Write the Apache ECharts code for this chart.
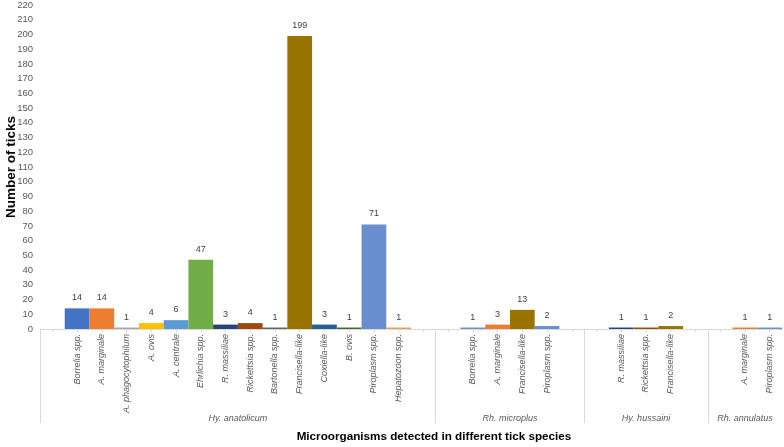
<!DOCTYPE html>
<html>
<head>
<meta charset="utf-8">
<script src="https://cdn.jsdelivr.net/npm/echarts@6/dist/echarts.min.js"></script>
<style>
html,body{margin:0;padding:0;background:#fff;}
#chart{width:784px;height:447px;}
</style>
</head>
<body>
<div id="chart"></div>
<script>
// ---- data ----
const groupNames = ['Hy. anatolicum', 'Rh. microplus', 'Hy. hussaini', 'Rh. annulatus'];

const anatolicumOrganisms = ['Borrelia spp.', 'A. marginale', 'A. phagocytophilum', 'A. ovis', 'A. centrale',
  'Ehrlichia spp.', 'R. massiliae', 'Rickettsia spp.', 'Bartonella spp.', 'Francisella-like',
  'Coxiella-like', 'B. ovis', 'Piroplasm spp.', 'Hepatozoon spp.'];
const anatolicumCounts = [14, 14, 1, 4, 6, 47, 3, 4, 1, 199, 3, 1, 71, 1];

const microplusOrganisms = ['Borrelia spp.', 'A. marginale', 'Francisella-like', 'Piroplasm spp.'];
const microplusCounts = [1, 3, 13, 2];

const hussainiOrganisms = ['R. massiliae', 'Rickettsia spp.', 'Francisella-like'];
const hussainiCounts = [1, 1, 2];

const annulatusOrganisms = ['A. marginale', 'Piroplasm spp.'];
const annulatusCounts = [1, 1];

const yTicks = { min: 0, max: 220, interval: 10 };

// ---- styles ----
const organismColors = {
  'Borrelia spp.': '#4472C4',
  'A. marginale': '#ED7D31',
  'A. phagocytophilum': '#A5A5A5',
  'A. ovis': '#FFC000',
  'A. centrale': '#5B9BD5',
  'Ehrlichia spp.': '#70AD47',
  'R. massiliae': '#264478',
  'Rickettsia spp.': '#9E480E',
  'Bartonella spp.': '#636363',
  'Francisella-like': '#997300',
  'Coxiella-like': '#255E91',
  'B. ovis': '#43682B',
  'Piroplasm spp.': '#698ED0',
  'Hepatozoon spp.': '#F1975A'
};
const groupColorOverrides = { 'Rh. microplus': { 'Borrelia spp.': '#698ED0' } };

// ---- build slots (a blank slot before each group, and after each but the last) ----
const groups = [
  [anatolicumOrganisms, anatolicumCounts],
  [microplusOrganisms, microplusCounts],
  [hussainiOrganisms, hussainiCounts],
  [annulatusOrganisms, annulatusCounts]
];
const categories = [];
const seriesData = [];
const groupBounds = [];
const groupCenters = [];
groups.forEach(([orgs, vals], gi) => {
  const start = categories.length;
  categories.push(''); seriesData.push('-');
  orgs.forEach((o, i) => {
    categories.push(o);
    const ov = groupColorOverrides[groupNames[gi]] || {};
    seriesData.push({ value: vals[i], itemStyle: { color: ov[o] || organismColors[o] } });
  });
  if (gi < groups.length - 1) { categories.push(''); seriesData.push('-'); }
  const end = categories.length;
  groupBounds.push(start);
  groupCenters.push((start + end) / 2);
});
const nSlots = categories.length;

const chart = echarts.init(document.getElementById('chart'));
const labelFont = 'Liberation Sans, Arial, sans-serif';
chart.setOption({
  animation: false,
  backgroundColor: '#ffffff',
  grid: { left: 40, right: 2, top: 5, bottom: 118, containLabel: false, outerBoundsMode: 'none' },
  xAxis: [
    {
      type: 'category',
      data: categories,
      boundaryGap: true,
      axisLine: { lineStyle: { color: '#d9d9d9', width: 1 } },
      axisTick: { show: true, alignWithLabel: true, length: 3, lineStyle: { color: '#d9d9d9' } },
      axisLabel: {
        interval: 0, rotate: 90, fontSize: 9, fontStyle: 'italic', color: '#595959',
        fontFamily: labelFont, margin: 5
      },
      name: 'Microorganisms detected in different tick species',
      nameLocation: 'middle',
      nameGap: 102,
      nameMoveOverlap: false,
      nameTextStyle: { fontSize: 11.7, fontWeight: 'bold', color: '#000', fontFamily: labelFont, padding: [0, 0, 0, 46] }
    },
    {
      type: 'value',
      min: 0, max: nSlots,
      position: 'bottom',
      axisLine: { show: false },
      splitLine: { show: false },
      axisTick: {
        show: true, customValues: groupBounds, length: 94, inside: false,
        lineStyle: { color: '#d9d9d9', width: 1 }
      },
      axisLabel: {
        show: true, customValues: groupCenters, margin: 85, fontSize: 9, fontStyle: 'italic',
        color: '#595959', fontFamily: labelFont,
        formatter: (v) => { const i = groupCenters.indexOf(v); return i >= 0 ? groupNames[i] : ''; }
      }
    }
  ],
  yAxis: {
    type: 'value',
    min: yTicks.min, max: yTicks.max, interval: yTicks.interval,
    axisLine: { show: false },
    axisTick: { show: false },
    splitLine: { show: false },
    axisLabel: { fontSize: 9.5, color: '#595959', fontFamily: labelFont, margin: 7 },
    name: 'Number of ticks',
    nameLocation: 'middle',
    nameGap: 22,
    nameMoveOverlap: false,
    nameTextStyle: { fontSize: 13.5, fontWeight: 'bold', color: '#000', fontFamily: labelFont }
  },
  series: [{
    type: 'bar',
    xAxisIndex: 0,
    data: seriesData,
    barCategoryGap: '0%',
    label: { show: true, position: 'top', fontSize: 9, color: '#404040', fontFamily: labelFont, distance: 6 }
  }]
});
</script>
</body>
</html>
